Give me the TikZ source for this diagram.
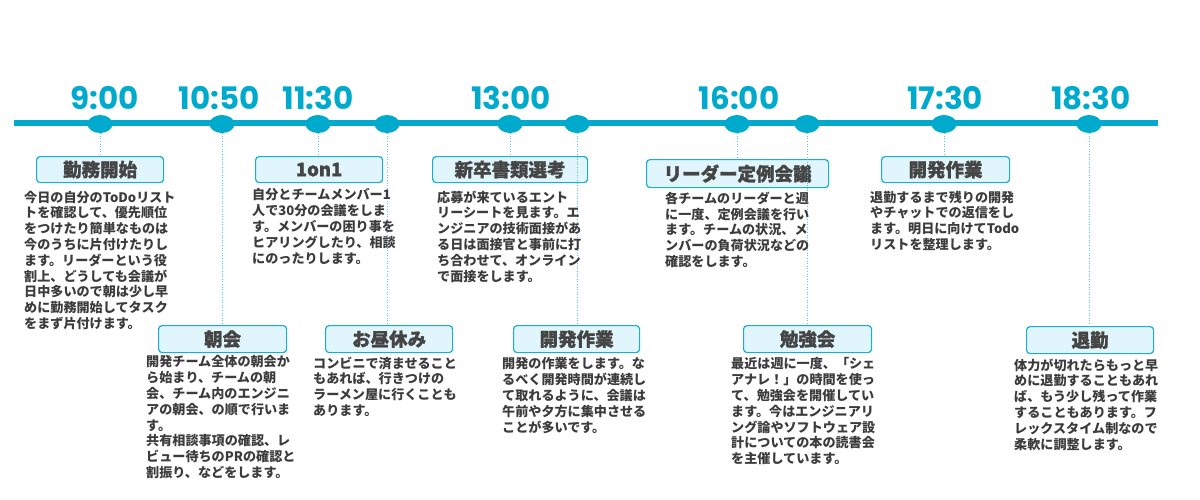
\documentclass[tikz,border=0pt]{standalone}
\usepackage{fontspec}
\newfontfamily\jp{Noto Sans CJK JP}
\newfontfamily\jph{Noto Sans CJK JP}[BoldFeatures={FakeBold=1.2}]
\newfontfamily\tm{Poppins}[BoldFont={* Bold}]
\definecolor{cy}{HTML}{00AACD}
\definecolor{dotc}{HTML}{5CC3DE}
\definecolor{boxfill}{HTML}{E1F6FC}
\definecolor{boxline}{HTML}{1AAED0}
\definecolor{txt}{HTML}{3C3C3C}
\definecolor{ttl}{HTML}{454545}
\tikzset{
  dot/.style={ellipse, fill=cy, minimum width=25pt, minimum height=18pt, inner sep=0},
  timelbl/.style={text=cy, font=\tm\bfseries\fontsize{31}{32}\selectfont, anchor=center, inner sep=0},
  titlebox/.style={draw=boxline, line width=1.2pt, fill=boxfill, rounded corners=3.5pt},
  ttltext/.style={text=ttl, font=\jph\bfseries\fontsize{18.5}{20}\selectfont, anchor=center, inner sep=0},
  body/.style={text=txt, font=\jp\bfseries\fontsize{13.1}{15.8}\selectfont, align=left, anchor=north west, inner sep=0},
  conn/.style={dotc, line width=1pt, dash pattern=on 1pt off 1.6pt},
}
\usetikzlibrary{shapes.geometric}
\begin{document}
\begin{tikzpicture}[x=1pt,y=-1pt]
\useasboundingbox (0,0) rectangle (1200,499);
% timeline
\coordinate (L0) at (14,123);
\coordinate (L1) at (1158,123);
\draw[cy, line width=6pt] (L0) -- (L1);
% dots
\foreach \n/\x in {a/100,b/222,c/318,d/387,e/510,f/577,g/737,h/807,i/944,j/1089}{
  \node[dot] (d\n) at (\x,124) {};
}
% time labels
\node[timelbl] (t1) at (105,98) {9:00};
\node[timelbl] (t2) at (219,98) {10:50};
\node[timelbl] (t3) at (318,98) {11:30};
\node[timelbl] (t4) at (511,98) {13:00};
\node[timelbl] (t5) at (739,98) {16:00};
\node[timelbl] (t6) at (945,98) {17:30};
\node[timelbl] (t7) at (1091,98) {18:30};
% boxes
\newcommand{\tbox}[6]{%
  \node[titlebox, minimum width=#4pt-#2pt, minimum height=#5pt-#3pt, inner sep=0, anchor=north west] (b#1) at (#2,#3) {};
  \node[ttltext] (bt#1) at (b#1.center) {#6};
}
\tbox{a}{36}{156}{163}{182}{勤務開始}
\tbox{b}{158}{325}{286}{352}{朝会}
\tbox{c}{255}{156}{382}{182}{1on1}
\tbox{d}{325}{325}{452}{352}{お昼休み}
\tbox{e}{432}{156}{587}{182}{新卒書類選考}
\tbox{f}{513}{325}{639}{352}{開発作業}
\tbox{g}{646}{159}{828}{187}{リーダー定例会議}
\tbox{h}{743}{325}{871}{352}{勉強会}
\tbox{i}{881}{156}{1009}{182}{開発作業}
\tbox{j}{1026}{326}{1153}{353}{退勤}
% connectors
\foreach \n in {a,b,c,d,e,f,g,h,i,j}{
  \draw[conn] (d\n.south) -- (d\n.south |- b\n.north);
}
% body texts
\node[body] (xa) at (24,190.5) {今日の自分のToDoリスト\\トを確認して、優先順位\\をつけたり簡単なものは\\今のうちに片付けたりし\\ます。リーダーという役\\割上、どうしても会議が\\日中多いので朝は少し早\\めに勤務開始してタスク\\をまず片付けます。};
\node[body] (xb) at (146,355.5) {開発チーム全体の朝会か\\ら始まり、チームの朝\\会、チーム内のエンジニ\\アの朝会、の順で行いま\\す。\\共有相談事項の確認、レ\\ビュー待ちのPRの確認と\\割振り、などをします。};
\node[body] (xc) at (252,188.5) {自分とチームメンバー1\\人で30分の会議をしま\\す。メンバーの困り事を\\ヒアリングしたり、相談\\にのったりします。};
\node[body] (xd) at (313,356.5) {コンビニで済ませること\\もあれば、行きつけの\\ラーメン屋に行くことも\\あります。};
\node[body] (xe) at (437,190.5) {応募が来ているエント\\リーシートを見ます。エ\\ンジニアの技術面接があ\\る日は面接官と事前に打\\ち合わせて、オンライン\\で面接をします。};
\node[body] (xf) at (502,357.5) {開発の作業をします。な\\るべく開発時間が連続し\\て取れるように、会議は\\午前や夕方に集中させる\\ことが多いです。};
\node[body] (xg) at (665,191.5) {各チームのリーダーと週\\に一度、定例会議を行い\\ます。チームの状況、メ\\ンバーの負荷状況などの\\確認をします。};
\node[body] (xh) at (731,357.5) {最近は週に一度、「シェ\\アナレ！」の時間を使っ\\て、勉強会を開催してい\\ます。今はエンジニアリ\\ング論やソフトウェア設\\計についての本の読書会\\を主催しています。};
\node[body] (xi) at (870,190.5) {退勤するまで残りの開発\\やチャットでの返信をし\\ます。明日に向けてTodo\\リストを整理します。};
\node[body] (xj) at (1014,358.5) {体力が切れたらもっと早\\めに退勤することもあれ\\ば、もう少し残って作業\\することもあります。フ\\レックスタイム制なので\\柔軟に調整します。};
\end{tikzpicture}
\end{document}
